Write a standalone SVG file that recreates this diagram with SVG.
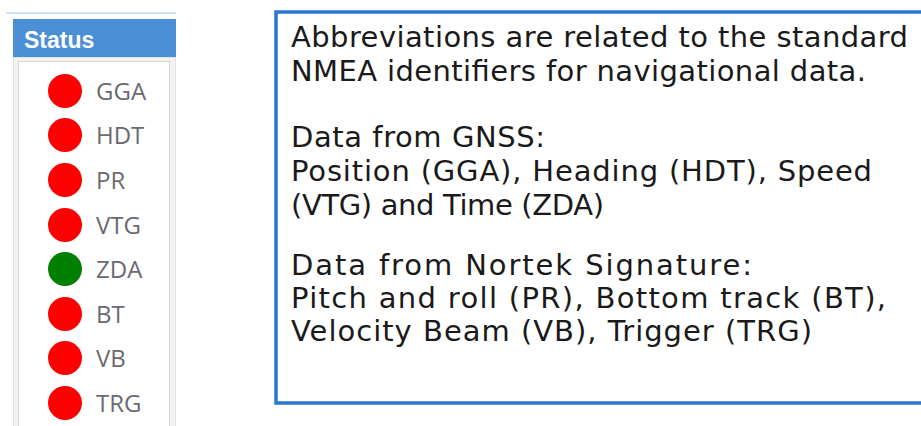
<svg xmlns="http://www.w3.org/2000/svg" width="921" height="426" viewBox="0 0 921 426">
<style>
.lbl{font-family:"Open Sans","Noto Sans","Liberation Sans",sans-serif;font-size:24px;fill:#6a6a70}
.on{fill:#008000}
.off{fill:#ff0000}
.txt{font-family:"DejaVu Sans","Verdana",sans-serif;font-size:29px;fill:#1a1a1a}
</style>
<rect width="921" height="426" fill="#ffffff"/>
<g id="status-panel">
  <line x1="6" y1="13" x2="176" y2="13" stroke="#cfe2f5" stroke-width="2"/>
  <rect x="13" y="19" width="163" height="38" fill="#4b8fd6"/>
  <text x="24" y="48" font-family="'Liberation Sans',Arial,sans-serif" font-weight="bold" font-size="23" fill="#ffffff">Status</text>
  <rect x="13.5" y="57.5" width="162" height="380" fill="#f2f2f2" stroke="#e3e3e3"/>
  <rect x="18.5" y="61.5" width="151" height="380" fill="#ffffff" stroke="#d6d6d6"/>
</g>
<g id="ind-GGA"><circle class="off" cx="65" cy="91" r="17"/><text class="lbl" x="96" y="100">GGA</text></g>
<g id="ind-HDT"><circle class="off" cx="65" cy="135" r="17"/><text class="lbl" x="96" y="144">HDT</text></g>
<g id="ind-PR"><circle class="off" cx="65" cy="180" r="17"/><text class="lbl" x="96" y="189">PR</text></g>
<g id="ind-VTG"><circle class="off" cx="65" cy="225" r="17"/><text class="lbl" x="96" y="234">VTG</text></g>
<g id="ind-ZDA"><circle class="on" cx="65" cy="269" r="17"/><text class="lbl" x="96" y="278">ZDA</text></g>
<g id="ind-BT"><circle class="off" cx="65" cy="314" r="17"/><text class="lbl" x="96" y="323">BT</text></g>
<g id="ind-VB"><circle class="off" cx="65" cy="358" r="17"/><text class="lbl" x="96" y="367">VB</text></g>
<g id="ind-TRG"><circle class="off" cx="65" cy="403" r="17"/><text class="lbl" x="96" y="412">TRG</text></g>
<g id="note">
  <rect x="276" y="12" width="700" height="391" fill="#ffffff" stroke="#2b78d0" stroke-width="3.5"/>
  <text class="txt" x="291" y="47" textLength="617" lengthAdjust="spacing">Abbreviations are related to the standard</text>
  <text class="txt" x="291" y="81" textLength="575" lengthAdjust="spacing">NMEA identifiers for navigational data.</text>
  <text class="txt" x="291" y="147" textLength="254" lengthAdjust="spacing">Data from GNSS:</text>
  <text class="txt" x="291" y="181" textLength="581" lengthAdjust="spacing">Position (GGA), Heading (HDT), Speed</text>
  <text class="txt" x="291" y="215" textLength="313" lengthAdjust="spacing">(VTG) and Time (ZDA)</text>
  <text class="txt" x="291" y="275" textLength="461" lengthAdjust="spacing">Data from Nortek Signature:</text>
  <text class="txt" x="291" y="308" textLength="595" lengthAdjust="spacing">Pitch and roll (PR), Bottom track (BT),</text>
  <text class="txt" x="291" y="341" textLength="521" lengthAdjust="spacing">Velocity Beam (VB), Trigger (TRG)</text>
</g>
</svg>
